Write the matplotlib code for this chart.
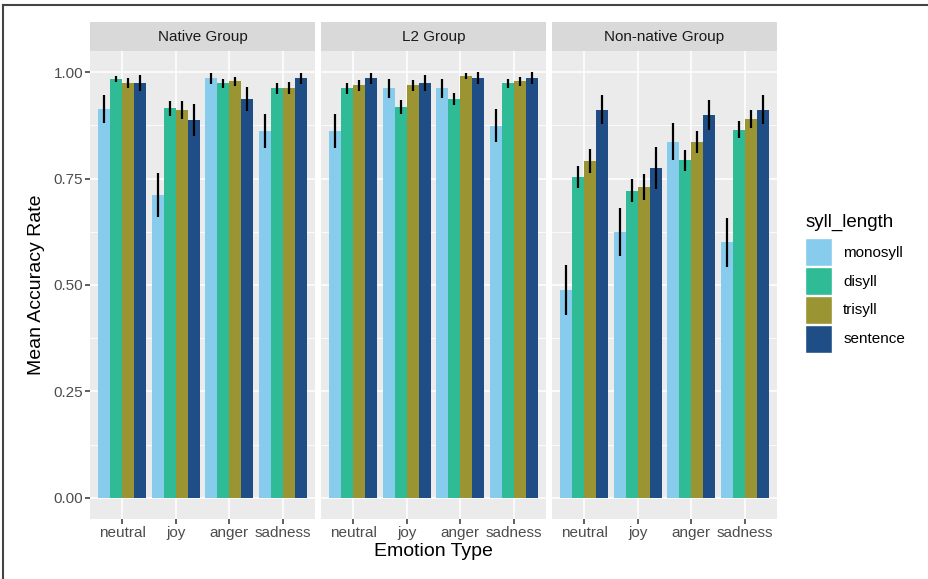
import numpy as np
import matplotlib
matplotlib.use("Agg")
import matplotlib.pyplot as plt
from matplotlib.patches import Patch
from matplotlib.lines import Line2D

plt.rcParams['font.family'] = ['Liberation Sans', 'DejaVu Sans']

emotions = ['neutral', 'joy', 'anger', 'sadness']
groups = ['Native Group', 'L2 Group', 'Non-native Group']
syll = ['monosyll', 'disyll', 'trisyll', 'sentence']
colors = ['#87CCEC', '#2EBB96', '#9A9532', '#1F4E86']

# rows = emotion, cols = syllable length
native_mean = [[0.913, 0.984, 0.974, 0.974],
               [0.712, 0.915, 0.912, 0.888],
               [0.986, 0.974, 0.979, 0.937],
               [0.862, 0.962, 0.962, 0.986]]
native_err = [[0.033, 0.008, 0.012, 0.019],
              [0.052, 0.018, 0.021, 0.037],
              [0.013, 0.010, 0.011, 0.029],
              [0.040, 0.012, 0.014, 0.013]]
l2_mean = [[0.862, 0.962, 0.969, 0.986],
           [0.962, 0.918, 0.969, 0.974],
           [0.962, 0.937, 0.991, 0.986],
           [0.874, 0.974, 0.979, 0.986]]
l2_err = [[0.040, 0.012, 0.013, 0.013],
          [0.023, 0.017, 0.013, 0.019],
          [0.023, 0.015, 0.007, 0.014],
          [0.039, 0.011, 0.011, 0.014]]
nn_mean = [[0.488, 0.753, 0.792, 0.912],
           [0.625, 0.722, 0.730, 0.775],
           [0.837, 0.793, 0.837, 0.900],
           [0.600, 0.865, 0.890, 0.912]]
nn_err = [[0.058, 0.026, 0.028, 0.034],
          [0.056, 0.027, 0.030, 0.049],
          [0.043, 0.024, 0.026, 0.036],
          [0.057, 0.020, 0.022, 0.034]]

means = [native_mean, l2_mean, nn_mean]
errs = [native_err, l2_err, nn_err]

W, H = 929, 579
fig = plt.figure(figsize=(W / 100, H / 100), dpi=100)

panel_left = [90, 321, 552]
pw = 225
top, bottom = 51, 519
strip_top = 22

x = np.arange(len(emotions))
bw = 0.9 / len(syll)

for g in range(3):
    ax = fig.add_axes([panel_left[g] / W, 1 - bottom / H, pw / W, (bottom - top) / H])
    m = np.array(means[g])
    e = np.array(errs[g])
    for j in range(len(syll)):
        off = (j - 1.5) * bw
        ax.bar(x + off, m[:, j], width=bw, color=colors[j], zorder=2)
        ax.errorbar(x + off, m[:, j], yerr=e[:, j], fmt='none', ecolor='black',
                    elinewidth=1.6, capsize=0, zorder=3)
    ax.set_facecolor('#EBEBEB')
    for s in ax.spines.values():
        s.set_visible(False)
    ax.set_xlim(-0.6, 3.6)
    ax.set_ylim(-0.05, 1.05)
    ax.set_yticks([0, 0.25, 0.5, 0.75, 1.0])
    ax.set_yticks([0.125, 0.375, 0.625, 0.875], minor=True)
    ax.set_xticks(x)
    ax.set_xticklabels(emotions)
    ax.grid(which='major', color='white', linewidth=1.1)
    ax.grid(which='minor', axis='y', color='white', linewidth=0.55)
    ax.set_axisbelow(True)
    ax.tick_params(which='minor', length=0)
    ax.tick_params(axis='both', colors='#333333', labelcolor='#4D4D4D',
                   labelsize=11, length=3.5, width=1.1, pad=1.5)
    if g == 0:
        ax.set_yticklabels(['0.00', '0.25', '0.50', '0.75', '1.00'])
    else:
        ax.tick_params(axis='y', length=0, labelleft=False)

    strip = fig.add_axes([panel_left[g] / W, 1 - top / H, pw / W, (top - strip_top) / H])
    strip.set_facecolor('#D9D9D9')
    strip.set_xticks([])
    strip.set_yticks([])
    for s in strip.spines.values():
        s.set_visible(False)
    strip.text(0.5, 0.5, groups[g], ha='center', va='center', fontsize=11,
               color='#1A1A1A', transform=strip.transAxes)

fig.text(37 / W, 1 - 285 / H, 'Mean Accuracy Rate', rotation=90, ha='center',
         va='center', fontsize=14, color='black')
fig.text(433 / W, 1 - 551 / H, 'Emotion Type', ha='center', va='center',
         fontsize=14, color='black')

# legend: title placed separately to get ggplot-like spacing
fig.text(806 / W, 1 - 222 / H, 'syll_length', ha='left', va='center',
         fontsize=13.5, color='black')
handles = [Patch(facecolor=c, edgecolor='white', linewidth=1) for c in colors]
fig.legend(handles=handles, labels=syll, loc='upper left',
           bbox_to_anchor=(805 / W, 1 - 238 / H), frameon=False, fontsize=11,
           handlelength=1.8, handleheight=2.45,
           labelspacing=0.05, handletextpad=0.7, borderpad=0, borderaxespad=0)

# outer frame (top and left edges only)
fig.add_artist(Line2D([3 / W, 1], [1 - 5 / H, 1 - 5 / H], color='#444444',
                      lw=1.5, transform=fig.transFigure))
fig.add_artist(Line2D([3 / W, 3 / W], [0, 1 - 5 / H], color='#444444',
                      lw=1.5, transform=fig.transFigure))

fig.savefig('out.png', dpi=100)
